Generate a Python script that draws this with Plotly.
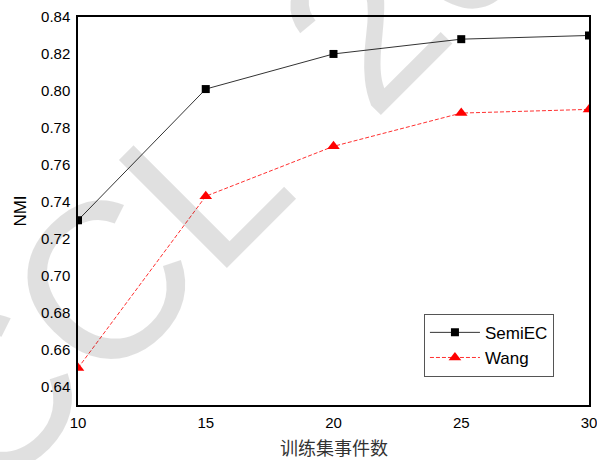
import plotly.graph_objects as go

x_vals = [10, 15, 20, 25, 30]
semiec = [0.730, 0.801, 0.820, 0.828, 0.830]
wang = [0.650, 0.743, 0.770, 0.788, 0.790]
y_ticks = [0.64, 0.66, 0.68, 0.70, 0.72, 0.74, 0.76, 0.78, 0.80, 0.82, 0.84]
x_ticks = [10, 15, 20, 25, 30]

fig = go.Figure()
fig.add_trace(go.Scatter(
    x=x_vals, y=semiec, name="SemiEC", mode="lines+markers",
    line=dict(color="#333333", width=1),
    marker=dict(symbol="square", size=8, color="black"),
))
fig.add_trace(go.Scatter(
    x=x_vals, y=wang, name="Wang", mode="lines+markers",
    line=dict(color="#ff3030", width=1, dash="4px,2px"),
    marker=dict(symbol="triangle-up", size=11, color="red"),
))

wm_font = dict(family="Liberation Sans, Arial", size=222, color="rgba(0,0,0,0.12)")
fig.add_annotation(
    text="CCL", x=0.0235, y=0.28, xref="paper", yref="paper",
    xanchor="center", yanchor="middle", showarrow=False, textangle=-45, font=wm_font,
)
fig.add_annotation(
    text="2020", x=0.812, y=1.318, xref="paper", yref="paper",
    xanchor="center", yanchor="middle", showarrow=False, textangle=-45, font=wm_font,
)
# x-axis title
fig.add_annotation(
    text="训练集事件数", x=0.5, y=0, xref="paper", yref="paper",
    xanchor="center", yanchor="top", yshift=-27, showarrow=False,
    font=dict(family="Noto Sans CJK SC", size=18, color="#333333"),
)

fig.update_layout(
    width=597, height=460,
    margin=dict(l=78, r=8, t=17, b=55),
    paper_bgcolor="white", plot_bgcolor="white",
    font=dict(family="Liberation Sans, Arial", size=15, color="black"),
    showlegend=True,
    legend=dict(
        x=0.677, y=0.235, xanchor="left", yanchor="top",
        bordercolor="#555555", borderwidth=1, bgcolor="rgba(255,255,255,0)",
        font=dict(size=17), tracegroupgap=0, itemwidth=50,
    ),
    xaxis=dict(
        range=[10, 30], tickvals=x_ticks, ticktext=[str(v) for v in x_ticks],
        showgrid=False, zeroline=False, showline=True, linecolor="black",
        linewidth=1.5, mirror=True, ticks="outside", ticklen=3,
        tickcolor="rgba(0,0,0,0)", automargin=False, ticklabeloverflow="allow",
    ),
    yaxis=dict(
        range=[0.63, 0.84], tickvals=y_ticks, ticktext=[f"{v:.2f}" for v in y_ticks],
        showgrid=False, zeroline=False, showline=True, linecolor="black",
        linewidth=1.5, mirror=True, ticks="outside", ticklen=3,
        tickcolor="rgba(0,0,0,0)", automargin=False, ticklabeloverflow="allow",
        title=dict(text="NMI", font=dict(size=17), standoff=10),
    ),
)

fig.write_html("out.html", post_script="document.body.style.margin='0';",
               config={"displayModeBar": False})
